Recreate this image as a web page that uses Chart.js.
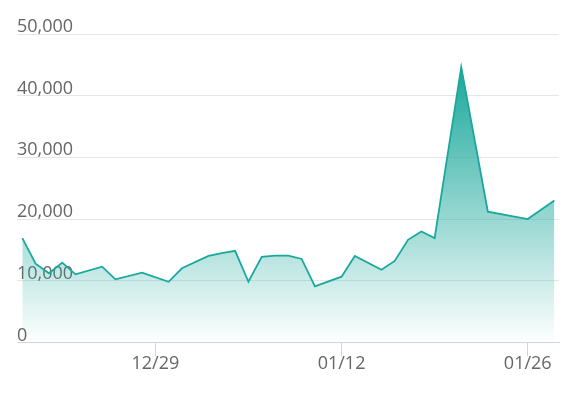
<!DOCTYPE html>
<html>
<head>
<meta charset="utf-8">
<script src="https://cdn.jsdelivr.net/npm/chart.js@4"></script>
<style>
  html, body { margin: 0; padding: 0; background: #ffffff; }
  #wrap { width: 575px; height: 393px; position: relative; }
</style>
</head>
<body>
<div id="wrap"><canvas id="chart"></canvas></div>
<script>
// days counted from 12/19
const days = [0, 1, 2, 3, 4, 6, 7, 9, 11, 12, 14, 15, 16, 17, 18, 19, 20, 21, 22, 24, 25, 27, 28, 29, 30, 31, 33, 35, 38, 40];
const values = [16900, 12770, 11200, 12930, 11040, 12280, 10220, 11300, 9830, 12020, 14020, 14460, 14840, 9830, 13860, 14070, 14070, 13530, 9080, 10650, 14020, 11790, 13210, 16630, 17980, 16910, 44620, 21190, 20000, 22990];

const tickDays = [10, 24, 38];
const tickLabels = ["12/29", "01/12", "01/26"];

const teal = "26,168,156";

document.addEventListener("DOMContentLoaded", function () {
    const canvas = document.getElementById("chart");

    new Chart(canvas, {
        type: "line",
        data: {
            datasets: [{
                data: days.map((d, i) => ({ x: d, y: values[i] })),
                borderColor: "rgb(" + teal + ")",
                borderWidth: 1.8,
                pointRadius: 0,
                tension: 0,
                fill: "origin",
                backgroundColor: function (ctx) {
                    const chart = ctx.chart;
                    const area = chart.chartArea;
                    if (!area) return "rgba(" + teal + ",0.5)";
                    const top = chart.scales.y.getPixelForValue(Math.max(...values));
                    const g = chart.ctx.createLinearGradient(0, top, 0, area.bottom);
                    g.addColorStop(0, "rgba(" + teal + ",1)");
                    g.addColorStop(1, "rgba(" + teal + ",0)");
                    return g;
                }
            }]
        },
        options: {
            responsive: true,
            maintainAspectRatio: false,
            animation: false,
            layout: {
                padding: { left: 17, right: 16, top: 34, bottom: 21 }
            },
            plugins: {
                legend: { display: false },
                tooltip: { enabled: false }
            },
            scales: {
                x: {
                    type: "linear",
                    min: -0.4,
                    max: 40.35,
                    afterBuildTicks: function (scale) {
                        scale.ticks = tickDays.map(v => ({ value: v }));
                    },
                    grid: {
                        drawOnChartArea: false,
                        tickLength: 14,
                        color: "#ccd6eb"
                    },
                    border: { color: "#ccd6eb", width: 1 },
                    ticks: {
                        padding: -3,
                        color: "#666666",
                        font: { family: "Open Sans", size: 18 },
                        maxRotation: 0,
                        autoSkip: false,
                        callback: function (value) {
                            const i = tickDays.indexOf(value);
                            return i >= 0 ? tickLabels[i] : "";
                        }
                    }
                },
                y: {
                    min: 0,
                    max: 50000,
                    grid: {
                        color: "#e6e6e6",
                        drawTicks: false
                    },
                    border: { display: false },
                    ticks: {
                        stepSize: 10000,
                        mirror: true,
                        padding: 0,
                        labelOffset: -7,
                        color: "#666666",
                        font: { family: "Open Sans", size: 18 },
                        callback: v => v.toLocaleString("en-US")
                    }
                }
            }
        }
    });
});
</script>
</body>
</html>
